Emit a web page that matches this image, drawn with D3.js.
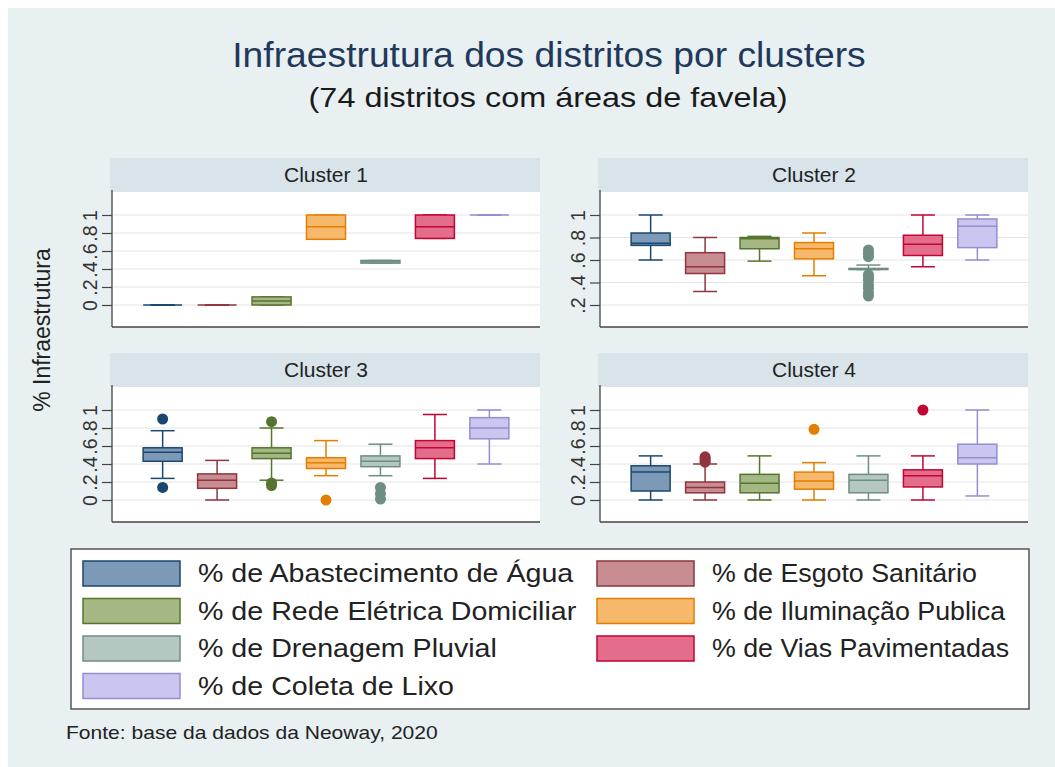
<!DOCTYPE html>
<html><head><meta charset="utf-8">
<script src="https://cdn.jsdelivr.net/npm/d3@7"></script>
<style>html,body{margin:0;padding:0;background:#fff;} text{font-family:"Liberation Sans",Arial,sans-serif;}</style>
</head><body>
<svg id="chart" width="1055" height="767"></svg>
<script>
// ---------- DATA ----------
const seriesNames = ["% de Abastecimento de Água", "% de Esgoto Sanitário", "% de Rede Elétrica Domiciliar", "% de Iluminação Publica", "% de Drenagem Pluvial", "% de Vias Pavimentadas", "% de Coleta de Lixo"];
const clusterNames = ["Cluster 1", "Cluster 2", "Cluster 3", "Cluster 4"];
const strokeColors = ["#1a476f", "#90353b", "#55752f", "#e37e00", "#6e8e84", "#c10534", "#938dd2"];
const fillColors = ["#7d99b8", "#c78d92", "#a5b783", "#f6b96c", "#b4c7c1", "#e46d8c", "#cbc6ef"];

const ticksLow = [0, 0.2, 0.4, 0.6, 0.8, 1];
const ticksC2 = [0.2, 0.4, 0.6, 0.8, 1];
const tickFmt = v => v === 0 ? "0" : v === 1 ? "1" : String(v).replace(/^0/, "");

// Cluster 1
const c1Lo  = [0, 0, 0, 0.73, 0.465, 0.74, 1];
const c1Q1  = [0, 0, 0, 0.73, 0.465, 0.74, 1];
const c1Med = [0, 0, 0.045, 0.87, 0.48, 0.87, 1];
const c1Q3  = [0, 0, 0.09, 1, 0.495, 1, 1];
const c1Hi  = [0, 0, 0.09, 1, 0.495, 1, 1];
const c1Out = [[], [], [], [], [], [], []];
// Cluster 2
const c2Lo  = [0.6, 0.32, 0.59, 0.46, 0.515, 0.54, 0.6];
const c2Q1  = [0.73, 0.48, 0.70, 0.61, 0.515, 0.64, 0.71];
const c2Med = [0.75, 0.54, 0.79, 0.70, 0.52, 0.74, 0.90];
const c2Q3  = [0.84, 0.665, 0.80, 0.755, 0.525, 0.82, 0.965];
const c2Hi  = [1, 0.8, 0.81, 0.84, 0.555, 1, 1];
const c2Out = [[], [], [], [], [0.69, 0.66, 0.63, 0.47, 0.445, 0.42, 0.38, 0.35, 0.31, 0.28], [], []];
// Cluster 3
const c3Lo  = [0.24, 0, 0.22, 0.27, 0.27, 0.24, 0.40];
const c3Q1  = [0.43, 0.13, 0.46, 0.35, 0.37, 0.46, 0.68];
const c3Med = [0.53, 0.22, 0.52, 0.415, 0.43, 0.58, 0.80];
const c3Q3  = [0.58, 0.29, 0.58, 0.47, 0.49, 0.66, 0.915];
const c3Hi  = [0.77, 0.44, 0.80, 0.66, 0.62, 0.95, 1];
const c3Out = [[0.9, 0.14], [], [0.87, 0.19, 0.16], [0], [0.14, 0.07, 0.01], [], []];
// Cluster 4
const c4Lo  = [0, 0, 0, 0, 0, 0, 0.045];
const c4Q1  = [0.10, 0.08, 0.08, 0.12, 0.08, 0.145, 0.40];
const c4Med = [0.31, 0.14, 0.185, 0.21, 0.22, 0.27, 0.47];
const c4Q3  = [0.38, 0.20, 0.285, 0.31, 0.285, 0.335, 0.62];
const c4Hi  = [0.49, 0.40, 0.49, 0.415, 0.49, 0.49, 1];
const c4Out = [[], [0.48, 0.46, 0.44, 0.42], [], [0.785], [], [1.0], []];

const clusterStats = [
  {lo: c1Lo, q1: c1Q1, med: c1Med, q3: c1Q3, hi: c1Hi, out: c1Out, dom: [0, 1], ticks: ticksLow},
  {lo: c2Lo, q1: c2Q1, med: c2Med, q3: c2Q3, hi: c2Hi, out: c2Out, dom: [0.2, 1], ticks: ticksC2},
  {lo: c3Lo, q1: c3Q1, med: c3Med, q3: c3Q3, hi: c3Hi, out: c3Out, dom: [0, 1], ticks: ticksLow},
  {lo: c4Lo, q1: c4Q1, med: c4Med, q3: c4Q3, hi: c4Hi, out: c4Out, dom: [0, 1], ticks: ticksLow}
];

// ---------- LAYOUT ----------
const svg = d3.select("#chart");
svg.append("rect").attr("x", 8).attr("y", 8).attr("width", 1047).attr("height", 759).attr("fill", "#e8f0f2");

// text widened horizontally by factor k around its anchor point
function wideText(parent, tx, ty, k, size, fill, anchor, str) {
  return parent.append("text")
    .attr("transform", `translate(${tx},${ty}) scale(${k},1)`)
    .attr("text-anchor", anchor).attr("font-size", size).attr("fill", fill).text(str);
}

wideText(svg, 549, 67, 1.035, 36, "#22385a", "middle", "Infraestrutura dos distritos por clusters");
wideText(svg, 548, 107, 1.2, 27, "#1a1a1a", "middle", "(74 distritos com áreas de favela)");

svg.append("text").attr("transform", "translate(50,330) rotate(-90)").attr("text-anchor", "middle")
  .attr("font-size", 23).attr("fill", "#222").text("% Infraestrutura");

const plotW = 428;
const panelX = [112, 600, 112, 600];
const headerTop = [158, 158, 353, 353];
const headerH = 34;
const plotH = 135;

const x = d3.scalePoint().domain(d3.range(seriesNames.length)).range([0, plotW]).padding(0.93);
const bw = 39, capW = 24;

clusterStats.forEach((st, ci) => {
  const px = panelX[ci];
  const top = headerTop[ci] + headerH;
  const bottom = top + plotH;
  const g = svg.append("g").attr("transform", `translate(${px},0)`);
  g.append("rect").attr("x", -2).attr("y", headerTop[ci]).attr("width", plotW + 2).attr("height", headerH).attr("fill", "#d9e4ea");
  g.append("text").attr("x", plotW / 2).attr("y", headerTop[ci] + 24).attr("text-anchor", "middle")
    .attr("font-size", 21).attr("fill", "#222").text(clusterNames[ci]);
  g.append("rect").attr("x", 0).attr("y", top).attr("width", plotW).attr("height", plotH).attr("fill", "#fff");
  const y = d3.scaleLinear().domain(st.dom).range([bottom - 22, top + 23]);
  g.selectAll(".grid").data(st.ticks).join("line")
    .attr("x1", 0).attr("x2", plotW).attr("y1", d => y(d)).attr("y2", d => y(d))
    .attr("stroke", "#e4e4e4").attr("stroke-width", 1);
  const ax = g.append("g").call(d3.axisLeft(y).tickValues(st.ticks).tickFormat(tickFmt).tickSize(10).tickSizeOuter(0));
  ax.select(".domain").remove();
  ax.selectAll(".tick line").attr("stroke", "#444").attr("stroke-width", 1.2);
  ax.selectAll(".tick text").attr("font-size", 19.5).attr("fill", "#333")
    .attr("text-anchor", "middle").attr("x", 0).attr("y", 0).attr("dy", "0.36em")
    .attr("transform", "translate(-22,0) rotate(-90)");
  g.append("line").attr("x1", 0).attr("x2", 0).attr("y1", top - 2).attr("y2", bottom).attr("stroke", "#444").attr("stroke-width", 1.3);
  g.append("line").attr("x1", 0).attr("x2", plotW).attr("y1", bottom).attr("y2", bottom).attr("stroke", "#444").attr("stroke-width", 1.3);

  seriesNames.forEach((s, i) => {
    const cx = x(i);
    const sc = strokeColors[i], fc = fillColors[i];
    const bg = g.append("g");
    bg.append("line").attr("x1", cx).attr("x2", cx).attr("y1", y(st.hi[i])).attr("y2", y(st.q3[i])).attr("stroke", sc).attr("stroke-width", 1.5);
    bg.append("line").attr("x1", cx).attr("x2", cx).attr("y1", y(st.q1[i])).attr("y2", y(st.lo[i])).attr("stroke", sc).attr("stroke-width", 1.5);
    bg.append("line").attr("x1", cx - capW / 2).attr("x2", cx + capW / 2).attr("y1", y(st.hi[i])).attr("y2", y(st.hi[i])).attr("stroke", sc).attr("stroke-width", 1.5);
    bg.append("line").attr("x1", cx - capW / 2).attr("x2", cx + capW / 2).attr("y1", y(st.lo[i])).attr("y2", y(st.lo[i])).attr("stroke", sc).attr("stroke-width", 1.5);
    bg.append("rect").attr("x", cx - bw / 2).attr("width", bw)
      .attr("y", y(st.q3[i])).attr("height", Math.max(0, y(st.q1[i]) - y(st.q3[i])))
      .attr("fill", fc).attr("stroke", sc).attr("stroke-width", 1.5);
    bg.append("line").attr("x1", cx - bw / 2).attr("x2", cx + bw / 2).attr("y1", y(st.med[i])).attr("y2", y(st.med[i])).attr("stroke", sc).attr("stroke-width", 1.5);
    bg.selectAll("circle").data(st.out[i]).join("circle")
      .attr("cx", cx).attr("cy", d => y(d)).attr("r", 5.5).attr("fill", sc);
  });
});

// ---------- LEGEND ----------
const lg = svg.append("g");
lg.append("rect").attr("x", 71).attr("y", 549).attr("width", 958).attr("height", 160).attr("fill", "#fff").attr("stroke", "#555").attr("stroke-width", 1.5);
const colX = [83, 597];
const colStretch = [1.1, 1.03];
seriesNames.forEach((s, i) => {
  const col = i % 2, row = Math.floor(i / 2);
  const yy = 561 + row * 37.5;
  lg.append("rect").attr("x", colX[col]).attr("y", yy).attr("width", 97).attr("height", 25)
    .attr("fill", fillColors[i]).attr("stroke", strokeColors[i]).attr("stroke-width", 1.5);
  wideText(lg, colX[col] + 115, yy + 21, colStretch[col], 26, "#222", "start", s);
});

wideText(svg, 66, 739, 1.17, 18, "#222", "start", "Fonte: base da dados da Neoway, 2020");
</script>
</body></html>
